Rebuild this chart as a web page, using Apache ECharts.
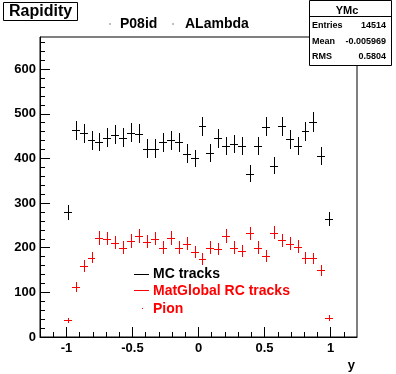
<!DOCTYPE html>
<html>
<head>
<meta charset="utf-8">
<script src="https://cdn.jsdelivr.net/npm/echarts@6/dist/echarts.min.js"></script>
<style>html,body{margin:0;padding:0;background:#fff}#c{width:396px;height:374px}</style>
</head>
<body>
<div id="c"></div>
<script>
// bin centres (bin width 0.06)
var binCenters = [-0.99, -0.93, -0.87, -0.81, -0.75, -0.69, -0.63, -0.57, -0.51, -0.45, -0.39, -0.33,
  -0.27, -0.21, -0.15, -0.09, -0.03, 0.03, 0.09, 0.15, 0.21, 0.27, 0.33, 0.39, 0.45, 0.51, 0.57,
  0.63, 0.69, 0.75, 0.81, 0.87, 0.93, 0.99];
var binWidth = 0.06;
var mcTracks = [279, 463, 456, 441, 437, 446, 453, 446, 458, 455, 422, 422, 436, 441, 436, 411, 400,
  472, 413, 445, 428, 432, 428, 366, 428, 471, 384, 472, 443, 428, 461, 482, 405, 264];
var rcTracks = [37, 112, 159, 178, 222, 220, 211, 200, 215, 226, 213, 220, 200, 222, 200, 209, 191,
  174, 200, 197, 226, 200, 193, 232, 200, 181, 234, 217, 209, 202, 177, 176, 149, 43];
var xMajorTicks = [-1, -0.5, 0, 0.5, 1];
var xMinorTicks = [-1.1, -1, -0.9, -0.8, -0.7, -0.6, -0.5, -0.4, -0.3, -0.2, -0.1, 0, 0.1, 0.2, 0.3,
  0.4, 0.5, 0.6, 0.7, 0.8, 0.9, 1, 1.1];
var yMajorTicks = [0, 100, 200, 300, 400, 500, 600];
var yMinorTicks = [20, 40, 60, 80, 120, 140, 160, 180, 220, 240, 260, 280, 320, 340, 360, 380,
  420, 440, 460, 480, 520, 540, 560, 580, 620, 640, 660];
var statsRows = [['Entries', '14514'], ['Mean', '-0.005969'], ['RMS', '0.5804']];

var FONT = 'Liberation Sans, Arial, Helvetica, sans-serif';

function pairs(xs, ys) { return xs.map(function (x, i) { return [x, ys[i]]; }); }

function errRender(color) {
  return function (params, api) {
    var x = api.value(0), y = api.value(1), e = Math.sqrt(y);
    var pl = api.coord([x - binWidth / 2, y]), pr = api.coord([x + binWidth / 2, y]);
    var pt = api.coord([x, y + e]), pb = api.coord([x, y - e]);
    var cy = Math.round(pl[1]) + 0.5, cx = Math.round(pt[0]) + 0.5;
    return { type: 'group', children: [
      { type: 'line', shape: { x1: Math.round(pl[0]), y1: cy, x2: Math.round(pr[0]), y2: cy },
        style: { stroke: color, lineWidth: 1 } },
      { type: 'line', shape: { x1: cx, y1: Math.round(pt[1]), x2: cx, y2: Math.round(pb[1]) },
        style: { stroke: color, lineWidth: 1 } }
    ] };
  };
}

var labelStyle = { color: '#000', fontFamily: FONT, fontWeight: 'bold', fontSize: 13 };

var chart = echarts.init(document.getElementById('c'), null, { renderer: 'canvas' });
chart.setOption({
  animation: false,
  backgroundColor: '#fff',
  grid: { left: 40, right: 39, top: 37, bottom: 37, show: true, borderColor: '#000', borderWidth: 1, backgroundColor: 'transparent' },
  xAxis: [
    { type: 'value', min: -1.2, max: 1.2, position: 'bottom',
      axisLine: { show: true, onZero: false, lineStyle: { color: '#000', width: 1 } },
      axisTick: { show: true, inside: true, length: 10, customValues: xMajorTicks, lineStyle: { color: '#000' } },
      axisLabel: Object.assign({ margin: 5, customValues: xMajorTicks }, labelStyle),
      splitLine: { show: false } },
    { type: 'value', min: -1.2, max: 1.2, position: 'bottom',
      axisLine: { show: false, onZero: false },
      axisTick: { show: true, inside: true, length: 5, customValues: xMinorTicks, lineStyle: { color: '#000' } },
      axisLabel: { show: false }, splitLine: { show: false } }
  ],
  yAxis: [
    { type: 'value', min: 0, max: 672, position: 'left',
      axisLine: { show: true, onZero: false, lineStyle: { color: '#000', width: 1 } },
      axisTick: { show: true, inside: true, length: 10, customValues: yMajorTicks, lineStyle: { color: '#000' } },
      axisLabel: Object.assign({ margin: 4, customValues: yMajorTicks }, labelStyle),
      splitLine: { show: false } },
    { type: 'value', min: 0, max: 672, position: 'left',
      axisLine: { show: false, onZero: false },
      axisTick: { show: true, inside: true, length: 5, customValues: yMinorTicks, lineStyle: { color: '#000' } },
      axisLabel: { show: false }, splitLine: { show: false } }
  ],
  series: [
    { name: 'MC tracks', type: 'custom', xAxisIndex: 0, yAxisIndex: 0,
      renderItem: errRender('#000'), data: pairs(binCenters, mcTracks) },
    { name: 'MatGlobal RC tracks', type: 'custom', xAxisIndex: 0, yAxisIndex: 0,
      renderItem: errRender('#ff0000'), data: pairs(binCenters, rcTracks) }
  ],
  graphic: [
    // title box
    { type: 'rect', shape: { x: 3.5, y: 2.5, width: 74, height: 18 }, style: { fill: '#fff', stroke: '#000', lineWidth: 1 } },
    { type: 'text', x: 9, y: 12, style: { text: 'Rapidity', fill: '#000', font: 'bold 16px ' + FONT, verticalAlign: 'middle' } },
    // header labels
    { type: 'rect', shape: { x: 109.5, y: 23.5, width: 1, height: 1 }, style: { fill: '#000' } },
    { type: 'text', x: 120, y: 24, style: { text: 'P08id', fill: '#000', font: 'bold 14px ' + FONT, verticalAlign: 'middle' } },
    { type: 'rect', shape: { x: 172.5, y: 23.5, width: 1, height: 1 }, style: { fill: '#000' } },
    { type: 'text', x: 185, y: 24, style: { text: 'ALambda', fill: '#000', font: 'bold 14px ' + FONT, verticalAlign: 'middle' } },
    // stats box
    { type: 'rect', shape: { x: 309.5, y: 0.5, width: 82, height: 65 }, style: { fill: '#fff', stroke: '#000', lineWidth: 1 } },
    { type: 'line', shape: { x1: 309.5, y1: 16.5, x2: 391.5, y2: 16.5 }, style: { stroke: '#000', lineWidth: 1 } },
    { type: 'text', x: 347, y: 11, style: { text: 'YMc', fill: '#000', font: 'bold 11px ' + FONT, align: 'center', verticalAlign: 'middle' } },
    { type: 'text', x: 312, y: 25.5, style: { text: statsRows[0][0], fill: '#000', font: 'bold 9px ' + FONT, verticalAlign: 'middle' } },
    { type: 'text', x: 386, y: 25.5, style: { text: statsRows[0][1], fill: '#000', font: 'bold 9px ' + FONT, align: 'right', verticalAlign: 'middle' } },
    { type: 'text', x: 312, y: 41.5, style: { text: statsRows[1][0], fill: '#000', font: 'bold 9px ' + FONT, verticalAlign: 'middle' } },
    { type: 'text', x: 386, y: 41.5, style: { text: statsRows[1][1], fill: '#000', font: 'bold 9px ' + FONT, align: 'right', verticalAlign: 'middle' } },
    { type: 'text', x: 312, y: 56.5, style: { text: statsRows[2][0], fill: '#000', font: 'bold 9px ' + FONT, verticalAlign: 'middle' } },
    { type: 'text', x: 386, y: 56.5, style: { text: statsRows[2][1], fill: '#000', font: 'bold 9px ' + FONT, align: 'right', verticalAlign: 'middle' } },
    // legend
    { type: 'line', shape: { x1: 134, y1: 274.5, x2: 149, y2: 274.5 }, style: { stroke: '#000', lineWidth: 1 } },
    { type: 'text', x: 153, y: 274, style: { text: 'MC tracks', fill: '#000', font: 'bold 14px ' + FONT, verticalAlign: 'middle' } },
    { type: 'line', shape: { x1: 134, y1: 290.5, x2: 149, y2: 290.5 }, style: { stroke: '#ff0000', lineWidth: 1 } },
    { type: 'text', x: 153, y: 291, style: { text: 'MatGlobal RC tracks', fill: '#ff0000', font: 'bold 14px ' + FONT, verticalAlign: 'middle' } },
    { type: 'rect', shape: { x: 142, y: 308, width: 1, height: 1 }, style: { fill: '#ff0000' } },
    { type: 'text', x: 153, y: 309, style: { text: 'Pion', fill: '#ff0000', font: 'bold 14px ' + FONT, verticalAlign: 'middle' } },
    // axis title
    { type: 'text', x: 355, y: 365, style: { text: 'y', fill: '#000', font: 'bold 13px ' + FONT, align: 'right', verticalAlign: 'middle' } }
  ]
});
</script>
</body>
</html>
